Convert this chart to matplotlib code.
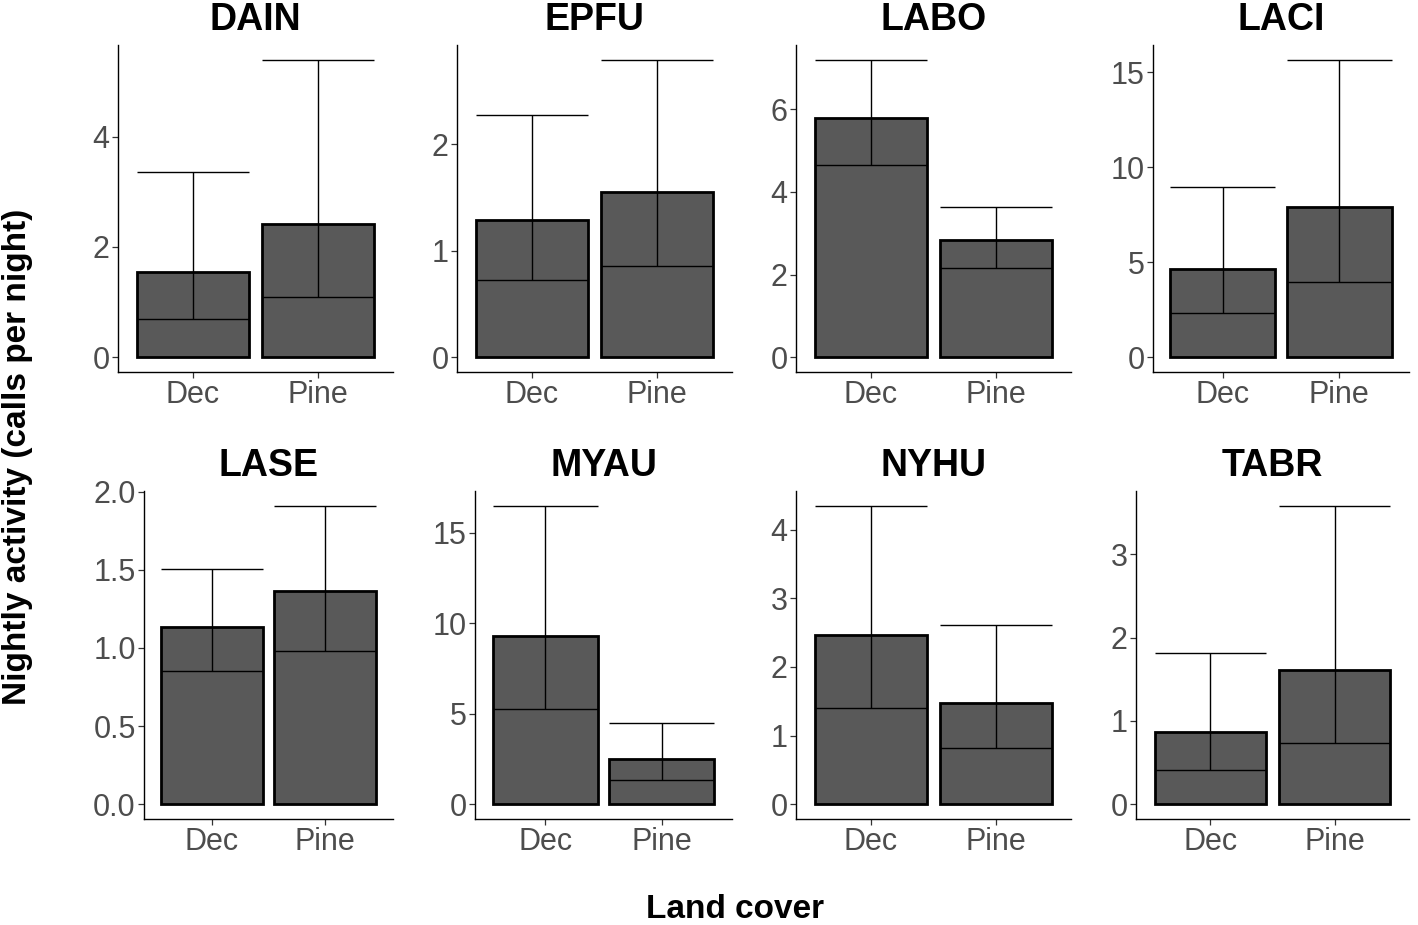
import matplotlib.pyplot as plt

plt.rcParams['font.family'] = ['Liberation Sans', 'DejaVu Sans']

species = ["DAIN", "EPFU", "LABO", "LACI", "LASE", "MYAU", "NYHU", "TABR"]
cover = ["Dec", "Pine"]

# bar heights (Dec, Pine)
bar_vals = [[1.54, 2.41], [1.29, 1.55], [5.80, 2.83], [4.64, 7.89],
            [1.135, 1.366], [9.28, 2.47], [2.47, 1.47], [0.86, 1.61]]
# lower end of the error bar
low_vals = [[0.69, 1.09], [0.72, 0.86], [4.65, 2.16], [2.34, 3.95],
            [0.853, 0.978], [5.23, 1.34], [1.40, 0.82], [0.41, 0.73]]
# upper end of the error bar
high_vals = [[3.35, 5.39], [2.27, 2.79], [7.20, 3.64], [8.94, 15.66],
             [1.504, 1.910], [16.48, 4.47], [4.35, 2.61], [1.81, 3.58]]
# y tick labels per panel
yticks = [[0, 2, 4], [0, 1, 2], [0, 2, 4, 6], [0, 5, 10, 15],
          [0.0, 0.5, 1.0, 1.5, 2.0], [0, 5, 10, 15], [0, 1, 2, 3, 4], [0, 1, 2, 3]]

W, H = 1418, 925
fig = plt.figure(figsize=(W / 100, H / 100), dpi=100)

# panel boxes in pixels: left, right, top, bottom
lefts = [118, 457, 796, 1153, 144, 475, 796, 1136]
rights = [393, 732, 1071, 1409, 393, 732, 1071, 1409]
tops = [45] * 4 + [491] * 4
bottoms = [372] * 4 + [819] * 4

grey = "#4D4D4D"
for i, sp in enumerate(species):
    l, r, t, b = lefts[i], rights[i], tops[i], bottoms[i]
    ax = fig.add_axes([l / W, 1 - b / H, (r - l) / W, (b - t) / H])
    x = [1, 2]
    ax.bar(x, bar_vals[i], width=0.9, color="#595959", edgecolor="black",
           linewidth=2.0, zorder=2)
    for j in range(2):
        ax.vlines(x[j], low_vals[i][j], high_vals[i][j], color="black", lw=1.0, zorder=3)
        for yy in (low_vals[i][j], high_vals[i][j]):
            ax.hlines(yy, x[j] - 0.45, x[j] + 0.45, color="black", lw=1.0, zorder=3)
    m = max(high_vals[i])
    ax.set_ylim(-0.05 * m, 1.05 * m)
    ax.set_xlim(0.4, 2.6)
    ax.set_xticks(x)
    ax.set_xticklabels(cover)
    ax.set_yticks(yticks[i])
    if sp == "LASE":
        ax.set_yticklabels([f"{v:.1f}" for v in yticks[i]])
    else:
        ax.set_yticklabels([str(v) for v in yticks[i]])
    for s in ["top", "right"]:
        ax.spines[s].set_visible(False)
    for s in ["left", "bottom"]:
        ax.spines[s].set_linewidth(1.0)
        ax.spines[s].set_color("black")
    ax.tick_params(axis="both", labelsize=22, colors="#333333", labelcolor=grey,
                   length=4, width=0.9, pad=2)
    ax.set_title(sp, fontsize=27, fontweight="bold", pad=11)

fig.text(18 / W, 1 - 457 / H, "Nightly activity (calls per night)", rotation=90,
         ha="center", va="center", fontsize=24, fontweight="bold")
fig.text(735 / W, 1 - 910 / H, "Land cover", ha="center", va="center",
         fontsize=24, fontweight="bold")

fig.savefig("out.png", dpi=100)
